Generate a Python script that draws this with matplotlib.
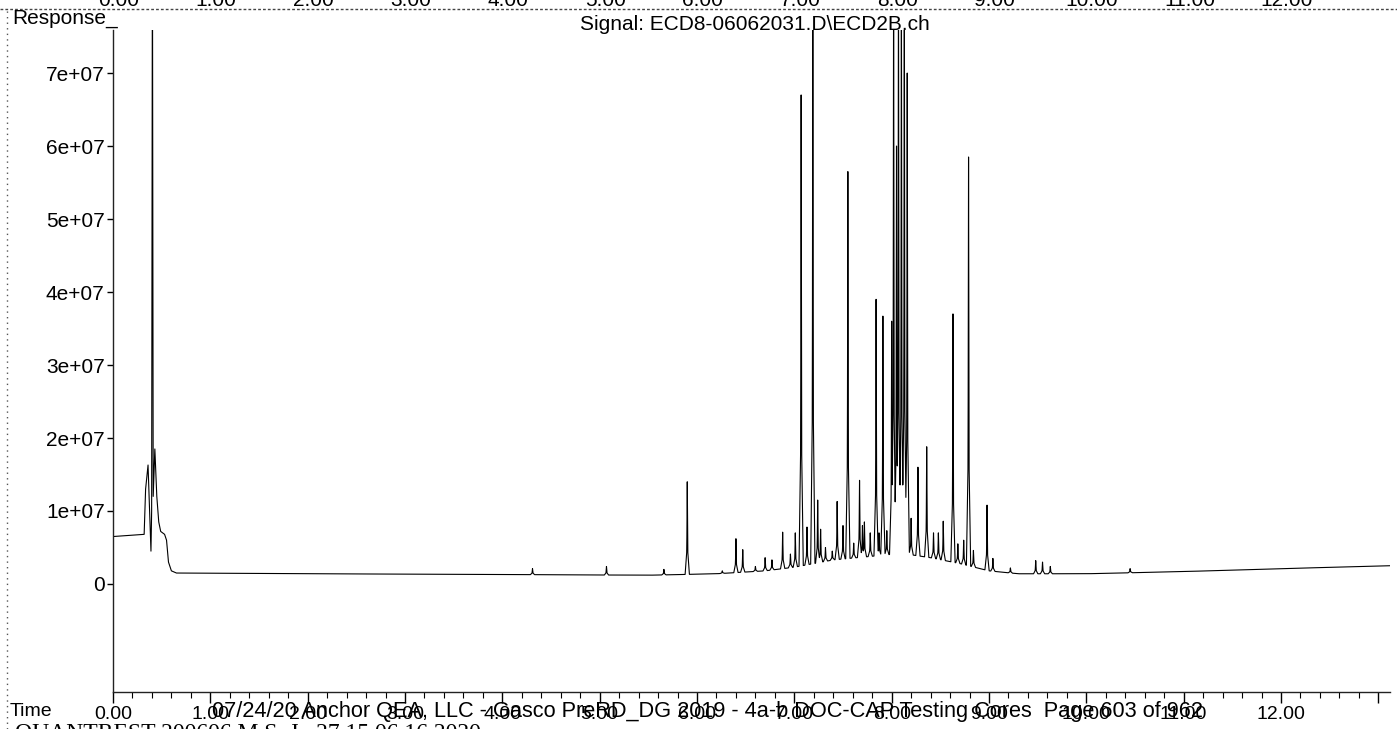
"""GC-ECD chromatogram (scanned report page): Signal ECD8-06062031.D\\ECD2B.ch"""

import numpy as np
import matplotlib.pyplot as plt
import matplotlib.transforms as mtransforms
from matplotlib.ticker import FixedLocator, MultipleLocator, FuncFormatter

plt.rcParams["font.family"] = ["Liberation Sans", "DejaVu Sans"]

# ---
# Data (time in minutes, response in counts)
# ---

# solvent front, drawn point by point
front_t = [0.00, 0.32, 0.335, 0.36, 0.39, 0.397, 0.405, 0.413, 0.43, 0.45, 0.47, 0.49, 0.53, 0.55, 0.57,
           0.60, 0.65]
front_y = [6.5e6, 6.8e6, 13.0e6, 16.3e6, 4.5e6, 10.0e6, 90e6, 12.0e6, 18.5e6, 12.0e6, 8.5e6, 7.2e6, 6.8e6,
           6.0e6, 3.0e6, 1.8e6, 1.5e6]

# baseline (valley floor) under the peaks
base_t = [0.65, 2.0, 4.0, 5.5, 6.2, 6.7, 7.0, 7.4, 7.8, 8.1, 8.4, 8.7, 9.0, 9.3, 10.0, 11.0, 12.0, 13.12]
base_y = [1.5e6, 1.4e6, 1.3e6, 1.2e6, 1.4e6, 1.8e6, 2.3e6, 3.3e6, 3.8e6, 4.2e6, 3.6e6, 2.8e6, 1.8e6, 1.4e6,
          1.4e6, 1.7e6, 2.1e6, 2.5e6]

# peak apexes
peak_t = [4.31, 5.07, 5.66, 5.90, 6.26, 6.40, 6.47, 6.60, 6.70, 6.77, 6.88, 6.96, 7.01, 7.07, 7.13,
          7.19, 7.24, 7.27, 7.32, 7.39, 7.44, 7.50, 7.55, 7.61, 7.67, 7.70, 7.72, 7.78, 7.84, 7.87,
          7.91, 7.95, 8.00, 8.02, 8.05, 8.07, 8.10, 8.13, 8.16, 8.20, 8.27, 8.36, 8.43, 8.48, 8.53,
          8.63, 8.68, 8.74, 8.79, 8.84, 8.98, 9.04, 9.22, 9.48, 9.55, 9.63, 10.45]
peak_h = [2.1e6, 2.4e6, 2.0e6, 14.0e6, 1.8e6, 6.2e6, 4.7e6, 2.4e6, 3.6e6, 3.3e6, 7.1e6, 4.1e6, 7.0e6, 67e6, 7.8e6,
          85e6, 11.5e6, 7.5e6, 5.0e6, 4.5e6, 11.3e6, 8.0e6, 56.5e6, 5.6e6, 14.2e6, 8.0e6, 8.5e6, 7.0e6, 39e6, 7.0e6,
          36.7e6, 7.3e6, 36e6, 85e6, 60e6, 86e6, 84e6, 87e6, 70e6, 9.0e6, 16e6, 18.8e6, 7.0e6, 7.0e6, 8.6e6,
          37e6, 5.5e6, 6.0e6, 58.5e6, 4.6e6, 10.8e6, 3.5e6, 2.2e6, 3.2e6, 3.0e6, 2.4e6, 2.1e6]

y_ticks = [0, 1e7, 2e7, 3e7, 4e7, 5e7, 6e7, 7e7]
x_major = list(range(0, 14))
x_labels = ["0.00", "1.00", "2.00", "3.00", "4.00", "5.00", "6.00", "7.00", "8.00", "9.00",
            "10.00", "11.00", "12.00", ""]
top_labels = ["0.00", "1.00", "2.00", "3.00", "4.00", "5.00", "6.00", "7.00", "8.00", "9.00",
              "10.00", "11.00", "12.00"]

title = "Signal: ECD8-06062031.D\\ECD2B.ch"
footer = "07/24/20 Anchor QEA, LLC - Gasco PreRD_DG 2019 - 4a-b DOC-CAP Testing Cores  Page 603 of 962"
quant_line = "QUANTREST 200606 M S  J   27 15 06 16 2020"

t_end = 13.12


def build_trace():
    # peaks sit on the local baseline as sharp spikes
    t = np.union1d(np.arange(front_t[-1], t_end, 0.002), peak_t)
    base = np.interp(t, base_t, base_y)
    y = base.copy()
    for t0, h in zip(peak_t, peak_h):
        b = np.interp(t0, base_t, base_y)
        frac = np.interp(np.abs(t - t0), [0.0, 0.005, 0.022], [1.0, 0.25, 0.0])
        y = np.maximum(y, base + (h - b) * frac)
    return np.concatenate([front_t, t[1:]]), np.concatenate([front_y, y[1:]])


def main():
    W, H = 1397, 729
    fig = plt.figure(figsize=(W / 100, H / 100), dpi=100)
    ax = fig.add_axes([113 / W, 1 - 692 / H, (1390 - 113) / W, (692 - 30) / H])

    t, y = build_trace()
    ax.plot(t, y, color="black", lw=0.8)

    ax.set_xlim(0, t_end)
    ax.set_ylim(-14.8e6, 75.9e6)

    for side in ["top", "right"]:
        ax.spines[side].set_visible(False)
    for side in ["left", "bottom"]:
        ax.spines[side].set_linewidth(1.0)
        ax.spines[side].set_color("#222222")

    ax.yaxis.set_major_locator(FixedLocator(y_ticks))
    ax.yaxis.set_major_formatter(FuncFormatter(lambda v, p: "0" if v == 0 else f"{v:.0e}"))
    ax.xaxis.set_major_locator(FixedLocator(x_major))
    ax.set_xticklabels(x_labels)
    ax.xaxis.set_minor_locator(MultipleLocator(0.2))
    ax.tick_params(axis="y", direction="out", length=4, width=1, labelsize=15, pad=2)
    ax.tick_params(axis="x", which="major", direction="out", length=8, width=1, labelsize=14, pad=2)
    ax.tick_params(axis="x", which="minor", direction="out", length=4, width=0.8)

    # page text
    fig.text(12 / W, 1 - 18 / H, "Response_", fontsize=15, va="center", ha="left")
    fig.text(755 / W, 1 - 25 / H, title, fontsize=15, va="center", ha="center")
    fig.text(10 / W, 1 - 711 / H, "Time", fontsize=14, va="center", ha="left")
    fig.text(212 / W, 1 - 712 / H, footer, fontsize=15.7, va="center", ha="left")
    fig.text(15 / W, 1 - 733 / H, quant_line, fontsize=17, va="center", ha="left",
             family="Liberation Serif")

    # cut-off time axis of the chromatogram above (scan edge)
    trans = mtransforms.blended_transform_factory(ax.transData, fig.transFigure)
    for k, lab in enumerate(top_labels):
        fig.text(k + 0.06, 1 - 6 / H, lab, transform=trans, fontsize=15,
                 ha="center", va="baseline")
    fig.add_artist(plt.Line2D([0, 1], [1 - 9 / H, 1 - 9 / H], transform=fig.transFigure,
                              color="#444444", lw=1.0, ls=(0, (2, 1.5))))
    fig.add_artist(plt.Line2D([7 / W, 7 / W], [0, 1 - 10 / H], transform=fig.transFigure,
                              color="#555555", lw=1.0, ls=(0, (1, 3))))

    fig.savefig("out.png", dpi=100)


if __name__ == "__main__":
    main()
